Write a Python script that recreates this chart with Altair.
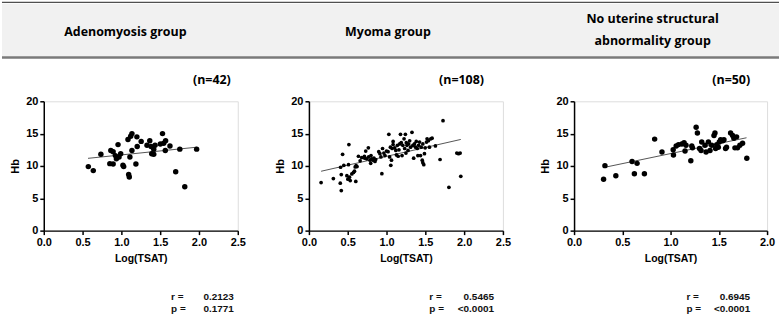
import altair as alt
import pandas as pd

# ---------------- data ----------------
groups = ["Adenomyosis group", "Myoma group", "No uterine structural\nabnormality group"]
n_labels = ["(n=42)", "(n=108)", "(n=50)"]
r_values = ["0.2123", "0.5465", "0.6945"]
p_values = ["0.1771", "<0.0001", "<0.0001"]

adeno_x = [0.574, 0.638, 0.736, 0.851, 0.894, 0.864, 0.894, 0.923, 0.936, 0.957,
           0.970, 0.991, 1.02, 1.03, 1.085, 1.094, 1.102, 1.11, 1.12, 1.136,
           1.136, 1.187, 1.20, 1.204, 1.255, 1.33, 1.366, 1.383, 1.391, 1.417,
           1.417, 1.434, 1.502, 1.53, 1.545, 1.566, 1.57, 1.626, 1.70, 1.753,
           1.817, 1.97]
adeno_hb = [9.9, 9.28, 11.8, 10.36, 10.3, 12.4, 12.2, 11.6, 11.1, 13.3,
            11.4, 11.9, 10.1, 9.9, 14.1, 8.67, 8.3, 11.4, 14.6, 15.0,
            12.4, 10.3, 14.5, 13.0, 13.8, 13.2, 13.9, 13.0, 11.9, 11.8,
            12.6, 13.2, 13.4, 15.0, 13.5, 12.4, 13.9, 13.1, 9.1, 12.6,
            6.77, 12.6]

myoma_x = [0.157, 0.315, 0.404, 0.417, 0.417, 0.408, 0.434, 0.45, 0.489, 0.502,
           0.515, 0.51, 0.523, 0.532, 0.553, 0.574, 0.587, 0.596, 0.608, 0.604,
           0.638, 0.68, 0.715, 0.732, 0.745, 0.766, 0.77, 0.787, 0.796, 0.81,
           0.826, 0.838, 0.851, 0.915, 0.928, 0.94, 0.949, 0.966, 1.0, 1.02,
           1.03, 1.04, 1.05, 1.055, 1.064, 1.072, 1.085, 1.085, 1.106, 1.128,
           1.14, 1.15, 1.16, 1.17, 1.18, 1.19, 1.2, 1.21, 1.226, 1.234,
           1.243, 1.255, 1.264, 1.277, 1.285, 1.298, 1.31, 1.328, 1.34, 1.35,
           1.36, 1.374, 1.383, 1.396, 1.404, 1.413, 1.426, 1.438, 1.447, 1.46,
           1.468, 1.48, 1.468, 1.489, 1.498, 1.515, 1.523, 1.54, 1.553, 1.57,
           1.587, 1.63, 1.69, 1.728, 1.804, 1.906, 1.928, 1.949, 1.957,
           0.62, 0.66, 0.72, 0.80, 0.86, 0.90, 0.98, 1.12, 1.25]
myoma_hb = [7.44, 8.05, 7.33, 6.2, 8.67, 9.8, 11.8, 10.1, 8.5, 7.95,
            13.3, 10.2, 8.26, 7.74, 8.77, 9.0, 9.2, 9.85, 10.05, 7.6,
            11.5, 11.3, 11.5, 12.3, 11.1, 12.8, 11.4, 10.9, 10.4, 11.1,
            10.9, 11.2, 10.7, 11.9, 11.4, 8.8, 12.7, 12.0, 12.3, 12.2,
            14.9, 11.4, 12.9, 10.1, 10.9, 12.7, 13.3, 13.8, 12.8, 11.7,
            13.2, 11.5, 12.5, 13.4, 14.9, 13.6, 11.6, 13.2, 14.2, 12.7,
            14.9, 13.6, 13.2, 12.4, 13.4, 13.9, 12.9, 15.2, 13.2, 11.2,
            13.4, 12.9, 13.8, 12.7, 11.6, 13.2, 13.7, 11.6, 12.9, 10.9,
            10.5, 10.2, 13.4, 11.9, 12.8, 13.7, 14.2, 13.9, 12.9, 14.2,
            14.3, 13.1, 11.0, 17.0, 6.7, 12.0, 11.9, 12.0, 8.4,
            9.9, 10.8, 11.2, 11.6, 11.0, 12.2, 11.6, 12.4, 12.0]

none_x = [0.306, 0.32, 0.433, 0.601, 0.625, 0.653, 0.729, 0.835, 0.911, 1.027,
          1.03, 1.058, 1.082, 1.117, 1.14, 1.15, 1.16, 1.21, 1.22, 1.227,
          1.265, 1.278, 1.30, 1.316, 1.323, 1.357, 1.368, 1.392, 1.409, 1.426,
          1.45, 1.46, 1.467, 1.478, 1.495, 1.505, 1.519, 1.54, 1.553, 1.57,
          1.58, 1.622, 1.643, 1.656, 1.667, 1.684, 1.694, 1.718, 1.746, 1.79]
none_hb = [7.95, 10.05, 8.5, 10.7, 8.8, 10.4, 8.8, 14.15, 12.15, 12.5,
           11.7, 13.1, 13.3, 13.4, 13.6, 12.3, 13.2, 10.8, 13.1, 12.8,
           16.0, 15.1, 12.7, 12.4, 13.7, 13.2, 12.15, 13.7, 12.4, 13.2,
           14.7, 15.1, 12.7, 13.3, 12.9, 13.7, 14.05, 13.9, 14.05, 12.7,
           12.9, 15.1, 14.7, 14.3, 12.8, 14.5, 12.8, 13.2, 13.5, 11.2]

fit_x = [[0.57, 1.97], [0.157, 1.957], [0.32, 1.787]]
fit_y = [[11.18, 12.9], [9.18, 14.1], [9.8, 14.36]]

x_ticks = [[0.0, 0.5, 1.0, 1.5, 2.0, 2.5], [0.0, 0.5, 1.0, 1.5, 2.0, 2.5], [0.0, 0.5, 1.0, 1.5, 2.0]]
y_ticks = [0, 5, 10, 15, 20]

FONT = "Liberation Sans"
HFONT = "Open Sans"


def panel(i, xs, ys, width, xmax, pt_size, header_x, stats_left, stats_right, nx, extras):
    df = pd.DataFrame({"x": xs, "hb": ys})
    xscale = alt.Scale(domain=[0, xmax], nice=False, zero=True)
    yscale = alt.Scale(domain=[0, 20], nice=False)
    xaxis = alt.Axis(values=x_ticks[i], format=".1f", title="Log(TSAT)", grid=False,
                     domainColor="black", domainWidth=1.5, tickColor="black", tickWidth=1.5,
                     tickSize=4, labelFont=FONT, labelFontWeight="bold", labelFontSize=11,
                     labelColor="black", labelPadding=2, labelOverlap=False, labelFlush=False,
                     titleFont=FONT, titleFontSize=10.5,
                     titleFontWeight="bold", titleColor="black", titlePadding=6)
    yaxis = alt.Axis(values=y_ticks, title="Hb", grid=False, tickCount=5,
                     domainColor="black", domainWidth=1.5, tickColor="black", tickWidth=1.5,
                     tickSize=4, labelFont=FONT, labelFontWeight="bold", labelFontSize=11,
                     labelColor="black", labelPadding=2, labelOverlap=False, labelFlush=False,
                     titleFont=FONT, titleFontSize=11,
                     titleFontWeight="bold", titleColor="black", titlePadding=5)
    pts = alt.Chart(df).mark_circle(color="black", opacity=1, size=pt_size).encode(
        x=alt.X("x:Q", scale=xscale, axis=xaxis),
        y=alt.Y("hb:Q", scale=yscale, axis=yaxis),
    )
    fdf = pd.DataFrame({"x": fit_x[i], "hb": fit_y[i]})
    fit = alt.Chart(fdf).mark_line(color="#555555", strokeWidth=1).encode(
        x=alt.X("x:Q", scale=xscale, axis=xaxis), y=alt.Y("hb:Q", scale=yscale, axis=yaxis))

    tdf = pd.DataFrame({"g": [groups[i]], "n": [n_labels[i]], "r": [r_values[i]], "p": [p_values[i]]})
    base = alt.Chart(tdf)
    two = "\n" in groups[i]
    head = base.mark_text(font=HFONT, fontSize=12.5, fontWeight="bold", color="black",
                          align="center", baseline="middle", lineBreak="\n", lineHeight=22).encode(
        x=alt.value(header_x), y=alt.value(-82.5 if two else -70), text="g:N")
    ntext = base.mark_text(font=HFONT, fontSize=12.5, fontWeight="bold", color="black",
                           align="right", baseline="middle").encode(
        x=alt.value(nx), y=alt.value(-21), text="n:N")
    sty = dict(font=FONT, fontSize=10, fontWeight="bold", color="#111111", baseline="middle")
    rlab = base.mark_text(align="left", text="r =", **sty).encode(
        x=alt.value(stats_left), y=alt.value(197))
    plab = base.mark_text(align="left", text="p =", **sty).encode(
        x=alt.value(stats_left), y=alt.value(209))
    rval = base.mark_text(align="right", **sty).encode(
        x=alt.value(stats_right), y=alt.value(197), text="r:N")
    pval = base.mark_text(align="right", **sty).encode(
        x=alt.value(stats_right), y=alt.value(209), text="p:N")
    layers = extras + [head, ntext, fit, pts, rlab, plab, rval, pval]
    return alt.layer(*layers).properties(width=width, height=130)


band_df = pd.DataFrame({"k": [0]})
band = alt.Chart(band_df).mark_rect(color="#f1f1f1").encode(
    x=alt.value(-42), x2=alt.value(739), y=alt.value(-98), y2=alt.value(-45))
top_line = alt.Chart(band_df).mark_rule(color="#222222", strokeWidth=1).encode(
    x=alt.value(-42), x2=alt.value(739), y=alt.value(-99.5))
bottom_line = alt.Chart(band_df).mark_rule(color="#7a7a7a", strokeWidth=2.5).encode(
    x=alt.value(-42), x2=alt.value(739), y=alt.value(-44))

p1 = panel(0, adeno_x, adeno_hb, 195, 2.5, 30, 82, 128, 191, 188, [band, top_line, bottom_line])
p2 = panel(1, myoma_x, myoma_hb, 195, 2.5, 14, 79.5, 121, 186, 176, [])
p3 = panel(2, none_x, none_hb, 194, 2.0, 30, 79, 113, 177, 177, [])

chart = alt.hconcat(p1, p2, p3, spacing=71.5, bounds="flush").properties(
    padding={"left": 0, "top": 0, "right": 0, "bottom": 0}
).configure_view(stroke=None).configure(background="white")

chart.save("out.html", embed_options={"renderer": "svg", "actions": False})
